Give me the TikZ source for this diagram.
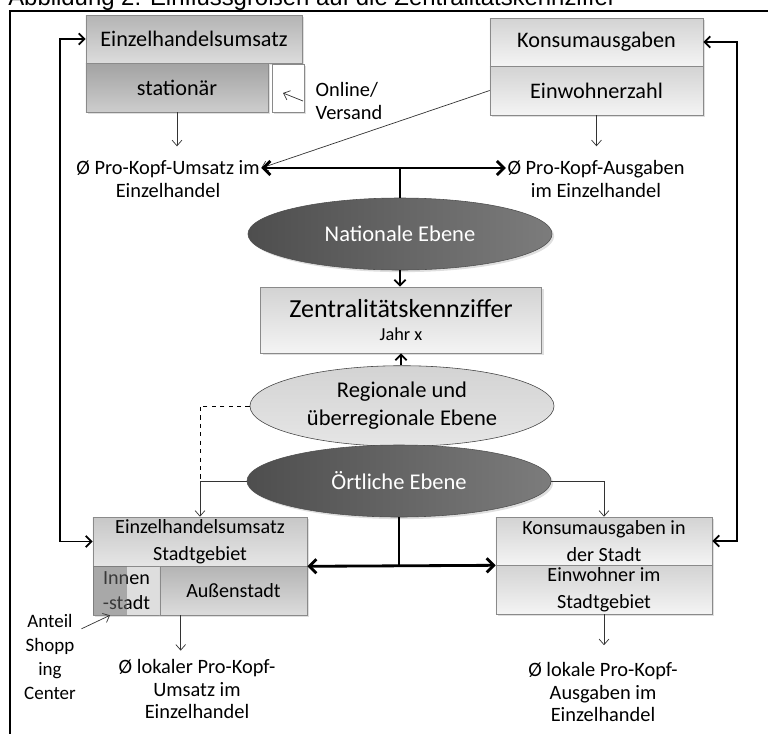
\documentclass[tikz,border=0pt]{standalone}
\usepackage{fontspec}
\setmainfont{Carlito}
\newfontfamily\titlefont{Liberation Sans}
\usetikzlibrary{shapes.geometric}
\usetikzlibrary{shadows}
\usetikzlibrary{arrows.meta}

\definecolor{boxline}{HTML}{8A8A8A}
\definecolor{lightA}{HTML}{D3D3D3}
\definecolor{lightB}{HTML}{F4F4F4}
\definecolor{midA}{HTML}{B4B4B4}
\definecolor{midB}{HTML}{DCDCDC}
\definecolor{deepA}{HTML}{A2A2A2}
\definecolor{deepB}{HTML}{CDCDCD}
\definecolor{ellA}{HTML}{4E4E4E}
\definecolor{ellB}{HTML}{7C7C7C}

\begin{document}
\begin{tikzpicture}[x=0.025cm, y=-0.025cm]
\tikzset{box/.style = {rectangle, draw=boxline, inner sep=0pt, align=center,
    drop shadow={shadow xshift=1.5pt, shadow yshift=-1.5pt, opacity=.25}}}
\tikzset{lightbox/.style = {box, top color=lightA, bottom color=lightB}}
\tikzset{midbox/.style = {box, top color=midA, bottom color=midB}}
\tikzset{deepbox/.style = {box, top color=deepA, bottom color=deepB}}
\tikzset{darkell/.style = {ellipse, draw=ellA, left color=ellA, right color=ellB, text=white,
    minimum width=7.6cm, minimum height=1.8cm, font=\fontsize{16}{19}\selectfont,
    drop shadow={shadow xshift=1.5pt, shadow yshift=-1.5pt, opacity=.25}}}
\tikzset{lightell/.style = {ellipse, draw=black!75, top color=lightA, bottom color=black!10,
    minimum width=7.6cm, minimum height=1.8cm, align=center, font=\fontsize{16}{20}\selectfont}}
\tikzset{txt/.style = {inner sep=1pt, align=center, font=\fontsize{14.5}{16}\selectfont}}
\tikzset{edge/.style = {-{Straight Barb[length=4pt, width=7pt]}, line width=.5pt, black!80}}
\tikzset{bold/.style = {{Straight Barb[length=5pt, width=10pt]}-{Straight Barb[length=5pt, width=10pt]}, line width=2pt}}
\tikzset{loop/.style = {{Straight Barb[length=4pt, width=8pt]}-{Straight Barb[length=4pt, width=8pt]}, line width=1.3pt}}

\useasboundingbox (0,0) rectangle (768,733);

\node[anchor=base west, inner sep=0pt, font=\titlefont\fontsize{17}{20}\selectfont] (title) at (8,5.3)
  {Abbildung 2: Einflussgrößen auf die Zentralitätskennziffer};
\draw[line width=1.5pt] (10,740) -- (10,11) -- (775,11);

\coordinate (lft) at (60,0);
\coordinate (rgt) at (737,0);
\coordinate (hub) at (400,168);

% national
\node[midbox, minimum width=5.4cm, minimum height=1.2cm, font=\fontsize{15.8}{18}\selectfont] (ehu) at (194,39) {Einzelhandelsumsatz};
\node[deepbox, minimum width=4.55cm, minimum height=1.225cm, font=\fontsize{15.8}{18}\selectfont] (stat) at (177,87.5) {stationär};
\node[box, fill=white, minimum width=.8cm, minimum height=1.2cm] (online) at (288,88) {};
\node[txt, anchor=west, align=left] (versand) at (314,101) {Online/\\Versand};

\node[lightbox, minimum width=5.325cm, minimum height=1.2cm, font=\fontsize{15.8}{18}\selectfont] (konsum) at (596.5,42) {Konsumausgaben};
\node[lightbox, minimum width=5.325cm, minimum height=1.225cm, font=\fontsize{15.8}{18}\selectfont] (einw) at (596.5,90.5) {Einwohnerzahl};

\node[txt] (umsatz) at (168,179) {Ø Pro-Kopf-Umsatz im\\Einzelhandel};
\node[txt] (ausgaben) at (596,179) {Ø Pro-Kopf-Ausgaben\\im Einzelhandel};

\node[darkell] (nat) at (400,234) {Nationale Ebene};
\node[lightbox, minimum width=7.025cm, minimum height=1.65cm] (zkz) at (401,320)
  {\fontsize{18.5}{21}\selectfont Zentralitätskennziffer\\[4pt]\fontsize{13}{15}\selectfont Jahr x};
\node[lightell] (reg) at (402,406) {Regionale und\\überregionale Ebene};
\node[darkell] (ort) at (399,481) {Örtliche Ebene};

% local
\node[midbox, top color=black!22, bottom color=black!10, minimum width=5.35cm, minimum height=1.225cm,
  font=\fontsize{14.3}{19.5}\selectfont] (ehs) at (200,541.5) {Einzelhandelsumsatz\\Stadtgebiet};
\node[box, fill=black!13, minimum width=1.675cm, minimum height=1.225cm,
  font=\fontsize{14.3}{18}\selectfont] (innen) at (126.5,590.5) {Innen\\-stadt};
\node[rectangle, inner sep=0pt, fill=black!55, fill opacity=.5, minimum width=.85cm, minimum height=1.225cm] (shop) at (110,590.5) {};
\node[midbox, minimum width=3.675cm, minimum height=1.225cm, font=\fontsize{14.3}{18}\selectfont] (aussen) at (233.5,590.5) {Außenstadt};

\node[lightbox, minimum width=5.4cm, minimum height=1.2cm, font=\fontsize{14.3}{19.5}\selectfont] (kst) at (604,541) {Konsumausgaben in\\der Stadt};
\node[lightbox, minimum width=5.4cm, minimum height=1.225cm, font=\fontsize{14.3}{19.5}\selectfont] (ewst) at (604,589.5) {Einwohner im\\Stadtgebiet};

\node[txt, font=\fontsize{13.5}{17}\selectfont] (anteil) at (50,657) {Anteil\\Shopp\\ing\\Center};
\node[txt] (lokU) at (197,689) {Ø lokaler Pro-Kopf-\\Umsatz im\\Einzelhandel};
\node[txt] (lokA) at (603,692) {Ø lokale Pro-Kopf-\\Ausgaben im\\Einzelhandel};

% connectors
\draw[edge] ([xshift=-.275cm]versand.west) -- ([xshift=-.125cm, yshift=-.125cm]online.center);
\draw[edge, shorten >=9pt] (stat.south) -- (stat.south |- umsatz.north);
\draw[edge, shorten >=9pt] (einw.south) -- (einw.south |- ausgaben.north);
\draw[edge] (einw.west) -- (umsatz.east |- hub);
\draw[bold] (umsatz.east |- hub) -- (ausgaben.west |- hub);
\draw[line width=2pt] (hub) -- (nat.north);
\draw[-{Straight Barb[length=4pt, width=8pt]}, line width=1.3pt] (nat.south) -- (nat.south |- zkz.north);
\draw[-{Straight Barb[length=4pt, width=8pt]}, line width=1.3pt] (reg.north -| zkz.south) -- (zkz.south);

\draw[dashed, line width=.5pt] (reg.west) -| (ehs.north |- ort.west);
\draw[edge] (ort.west) -| (ehs.north);
\draw[edge] (ort.east) -| (kst.north);
\draw[line width=2pt] (ort.south) -- (ort.south |- ehs.south east);
\draw[bold] (ehs.south east) -- (kst.south west);

\draw[loop] (ehs.west) -- (ehs.west -| lft) -- (ehu.west -| lft) -- (ehu.west);
\draw[loop] (kst.east) -- (kst.east -| rgt) -- (konsum.east -| rgt) -- (konsum.east);

\draw[edge] ([xshift=.1cm, yshift=-.4cm]anteil.north east) -- (shop.south);
\draw[edge, shorten >=5pt] ([xshift=.525cm]aussen.south west) -- ([xshift=.525cm]aussen.south west |- lokU.north);
\draw[edge, shorten >=11pt] (ewst.south) -- (ewst.south |- lokA.north);

\end{tikzpicture}
\end{document}
